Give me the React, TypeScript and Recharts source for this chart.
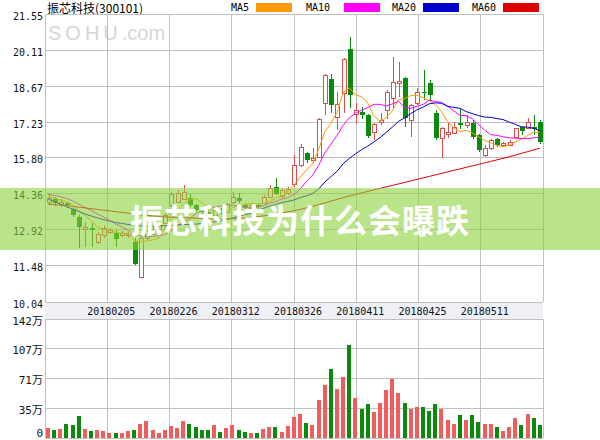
import React from 'react';
import {
  ComposedChart,
  BarChart,
  Bar,
  Line,
  XAxis,
  YAxis,
  CartesianGrid,
  Legend,
  Cell
} from 'recharts';

// daily candles, 2018-01-22 .. 2018-05-24 (81 sessions)
const OPEN = [14.05, 14.15, 13.95, 14.00, 13.75, 13.45, 12.95, 13.00, 12.45, 12.72,
  12.85, 12.80, 12.72, 12.70, 12.45, 11.05, 12.60, 12.75, 12.95, 13.20,
  13.90, 14.05, 14.15, 14.20, 13.90, 13.72, 13.62, 13.50, 13.70, 13.65,
  14.03, 14.20, 13.92, 13.80, 13.90, 14.00, 14.25, 14.62, 14.28, 14.38,
  14.75, 15.50, 16.00, 15.72, 15.85, 18.00, 18.95, 17.45, 18.40, 20.15,
  17.55, 17.62, 17.50, 16.85, 17.22, 17.72, 18.20, 18.78, 19.00, 17.32,
  17.98, 18.45, 18.80, 17.60, 16.60, 16.75, 16.80, 17.20, 17.10, 17.20,
  16.70, 15.92, 16.20, 16.55, 16.30, 16.32, 16.62, 17.02, 17.00, 17.05, 17.22];
const HIGH = [14.40, 14.22, 14.15, 14.05, 13.80, 13.50, 13.25, 13.20, 12.85, 13.10,
  13.00, 12.90, 12.88, 12.82, 12.60, 12.70, 12.90, 13.05, 13.20, 13.60,
  14.45, 14.50, 14.70, 14.35, 13.95, 13.80, 13.70, 13.80, 13.80, 14.00,
  14.43, 14.40, 14.00, 14.00, 13.95, 14.30, 14.72, 15.00, 14.60, 14.65,
  15.90, 16.35, 16.05, 16.20, 17.40, 19.15, 19.15, 18.45, 19.80, 20.62,
  18.00, 17.85, 17.55, 17.20, 17.60, 18.50, 19.85, 19.65, 19.05, 17.95,
  18.60, 19.30, 18.90, 17.72, 17.05, 17.20, 17.25, 17.75, 17.50, 17.30,
  16.75, 16.30, 16.55, 16.60, 16.45, 16.50, 17.00, 17.05, 17.40, 17.50, 17.30];
const LOW = [13.95, 13.88, 13.85, 13.80, 13.45, 12.20, 12.25, 12.25, 12.35, 12.60,
  12.75, 12.25, 12.65, 12.60, 11.50, 11.05, 12.50, 12.70, 12.90, 13.15,
  13.85, 14.00, 14.10, 13.85, 13.65, 13.55, 13.40, 13.45, 13.50, 13.60,
  13.95, 14.00, 13.75, 13.75, 13.75, 13.95, 14.20, 14.30, 14.20, 14.30,
  14.65, 15.45, 15.60, 15.60, 15.80, 17.50, 17.60, 16.90, 17.60, 17.80,
  17.20, 17.35, 16.60, 16.50, 17.10, 17.35, 17.80, 18.25, 17.05, 16.65,
  17.90, 18.10, 18.05, 16.50, 15.80, 16.60, 16.75, 16.95, 17.00, 16.55,
  16.05, 15.85, 16.10, 16.25, 16.22, 16.28, 16.60, 16.70, 16.95, 16.70, 16.35];
const CLOSE = [14.20, 14.00, 14.02, 13.90, 13.52, 13.05, 13.02, 12.92, 12.75, 12.98,
  12.90, 12.55, 12.78, 12.74, 11.55, 12.60, 12.75, 12.95, 13.10, 13.50,
  14.35, 14.40, 14.45, 13.92, 13.72, 13.62, 13.50, 13.70, 13.60, 13.95,
  14.23, 14.08, 13.80, 13.90, 13.82, 14.22, 14.60, 14.35, 14.50, 14.55,
  15.50, 16.25, 15.72, 15.80, 17.35, 19.10, 17.92, 17.95, 19.75, 18.30,
  17.70, 17.50, 16.68, 17.15, 17.32, 18.42, 18.85, 18.88, 17.40, 17.90,
  18.45, 18.38, 18.30, 16.60, 17.00, 16.82, 17.05, 17.10, 17.25, 16.65,
  16.12, 16.18, 16.50, 16.32, 16.38, 16.45, 16.98, 16.88, 17.22, 16.95, 16.45];

// volume, 万手
const VOLUME = [11.5, 9.1, 10.3, 17.1, 15.9, 26.6, 10.3, 7.9, 9.1, 7.9,
  5.6, 5.6, 5.6, 7.9, 9.1, 17.1, 19.8, 9.1, 5.6, 9.1,
  14.7, 11.5, 19.8, 17.1, 12.7, 9.1, 9.1, 15.9, 6.7, 11.5,
  15.9, 9.1, 6.7, 5.6, 5.6, 10.3, 12.7, 12.7, 6.7, 14.7,
  24.6, 29.0, 18.3, 15.9, 45.7, 63.5, 82.6, 58.8, 73.0, 111.2,
  48.0, 34.9, 40.9, 31.4, 42.1, 57.6, 69.9, 54.0, 42.1, 34.9,
  37.3, 37.3, 32.6, 40.9, 34.9, 21.8, 17.1, 27.8, 21.8, 27.8,
  19.5, 17.1, 17.1, 13.5, 8.7, 13.5, 24.2, 15.9, 29.0, 24.2, 15.9];

const MA5 = [14.25, 14.20, 14.12, 14.05, 13.93, 13.70, 13.50, 13.28, 13.05, 12.94,
  12.91, 12.82, 12.79, 12.79, 12.50, 12.44, 12.48, 12.52, 12.59, 12.98,
  13.33, 13.66, 13.96, 14.12, 14.17, 14.02, 13.84, 13.69, 13.63, 13.67,
  13.80, 13.91, 13.93, 13.99, 13.97, 13.96, 14.07, 14.18, 14.30, 14.44,
  14.70, 15.03, 15.30, 15.56, 16.12, 16.84, 17.18, 17.62, 18.41, 18.60,
  18.32, 18.24, 17.99, 17.47, 17.27, 17.41, 17.68, 18.12, 18.17, 18.29,
  18.30, 18.20, 18.09, 17.93, 17.65, 17.25, 17.00, 16.85, 16.90, 16.80,
  16.65, 16.50, 16.40, 16.30, 16.25, 16.30, 16.45, 16.55, 16.70, 16.82, 16.85];
const MA10 = [14.35, 14.30, 14.25, 14.18, 14.08, 13.95, 13.82, 13.70, 13.56, 13.44,
  13.31, 13.16, 13.04, 12.92, 12.72, 12.68, 12.65, 12.66, 12.69, 12.74,
  12.89, 13.07, 13.24, 13.36, 13.57, 13.68, 13.75, 13.83, 13.88, 13.92,
  13.91, 13.88, 13.81, 13.81, 13.82, 13.88, 13.99, 14.06, 14.15, 14.21,
  14.33, 14.55, 14.85, 15.10, 15.50, 16.00, 16.35, 16.70, 17.10, 17.40,
  17.58, 17.71, 17.81, 17.94, 17.94, 17.87, 17.96, 18.06, 17.82, 17.78,
  17.86, 17.94, 18.11, 18.05, 18.02, 17.86, 17.68, 17.50, 17.49, 17.36,
  17.13, 16.91, 16.73, 16.70, 16.64, 16.60, 16.59, 16.57, 16.57, 16.60, 16.63];
const MA20 = [14.15, 14.05, 13.95, 13.85, 13.75, 13.65, 13.56, 13.48, 13.40, 13.33,
  13.27, 13.22, 13.18, 13.14, 13.10, 13.08, 13.07, 13.07, 13.08, 13.09,
  13.10, 13.12, 13.14, 13.14, 13.15, 13.18, 13.20, 13.24, 13.28, 13.33,
  13.40, 13.47, 13.53, 13.58, 13.70, 13.78, 13.87, 13.94, 14.01, 14.06,
  14.12, 14.21, 14.28, 14.37, 14.55, 14.83, 15.05, 15.26, 15.57, 15.78,
  15.96, 16.13, 16.27, 16.44, 16.61, 16.82, 17.03, 17.26, 17.40, 17.57,
  17.72, 17.83, 17.96, 18.00, 17.98, 17.86, 17.82, 17.78, 17.65, 17.57,
  17.49, 17.43, 17.42, 17.37, 17.33, 17.23, 17.14, 17.04, 17.03, 16.98, 16.88];
const MA60 = [13.95, 13.93, 13.91, 13.89, 13.86, 13.83, 13.80, 13.77, 13.74, 13.71,
  13.68, 13.65, 13.62, 13.59, 13.55, 13.52, 13.50, 13.48, 13.46, 13.44,
  13.43, 13.42, 13.41, 13.40, 13.39, 13.38, 13.37, 13.36, 13.36, 13.36,
  13.37, 13.38, 13.40, 13.42, 13.45, 13.48, 13.52, 13.56, 13.60, 13.64,
  13.69, 13.74, 13.80, 13.86, 13.93, 14.00, 14.07, 14.14, 14.21, 14.28,
  14.34, 14.40, 14.46, 14.52, 14.58, 14.64, 14.70, 14.76, 14.82, 14.88,
  14.94, 15.00, 15.06, 15.12, 15.18, 15.24, 15.30, 15.36, 15.42, 15.48,
  15.54, 15.60, 15.66, 15.72, 15.78, 15.84, 15.91, 15.98, 16.05, 16.12, 16.19];

const DATE_LABELS = ['20180205', '20180226', '20180312', '20180326', '20180411', '20180425', '20180511'];
const PRICE_TICKS = [10.04, 11.48, 12.92, 14.36, 15.80, 17.23, 18.67, 20.11, 21.55];
const VOL_TICKS = [0, 35.5, 71, 106.5, 142];
const VOL_TICK_LABELS = ['0', '35万', '71万', '107万', '142万'];
const GRID_COLS = [0, 1, 2, 3, 4, 5, 6, 7, 8];
const LEGEND_ORDER = ['MA5', 'MA10', 'MA20', 'MA60'];

const RED = '#e04b4b';
const GREEN = '#0a8a0a';
const VOL_RED = '#f25c5c';
const MONO = '"DejaVu Sans Mono", "Noto Sans CJK SC", monospace';

const rows = CLOSE.map((close, i) => ({
  i,
  open: OPEN[i],
  high: HIGH[i],
  low: LOW[i],
  close,
  range: [LOW[i], HIGH[i]],
  vol: VOLUME[i],
  ma5: MA5[i],
  ma10: MA10[i],
  ma20: MA20[i],
  ma60: MA60[i]
}));

const Candle = (props: any) => {
  const { x, y, width, height, payload } = props;
  const top = Math.min(y, y + height);
  const h = Math.abs(height);
  const { open, close, high, low } = payload;
  const span = high - low || 1;
  const py = (v: number) => Math.round(top + ((high - v) / span) * h);
  const cx = Math.round(x + width / 2);
  const bodyTop = py(Math.max(open, close));
  const bodyBot = py(Math.min(open, close));
  const wickTop = py(high);
  const wickBot = py(low);
  if (close >= open) {
    return (
      <g>
        <line x1={cx + 0.5} x2={cx + 0.5} y1={wickTop} y2={bodyTop} stroke={RED} />
        <line x1={cx + 0.5} x2={cx + 0.5} y1={bodyBot} y2={wickBot} stroke={RED} />
        <rect x={cx - 1.5} y={bodyTop + 0.5} width={4} height={Math.max(bodyBot - bodyTop, 1)} fill="#fff" stroke={RED} />
      </g>
    );
  }
  return (
    <g>
      <line x1={cx + 0.5} x2={cx + 0.5} y1={wickTop} y2={wickBot} stroke={GREEN} />
      <rect x={cx - 2} y={bodyTop} width={5} height={Math.max(bodyBot - bodyTop, 1)} fill={GREEN} />
    </g>
  );
};

const PriceTick = ({ x, y, payload }: any) => (
  <text x={x} y={y + 2} textAnchor="end" dominantBaseline="central" fontSize={10} fontFamily={MONO} fill="#111">
    {Number(payload.value).toFixed(2)}
  </text>
);

const VolTick = ({ x, y, payload }: any) => {
  const label = VOL_TICK_LABELS[VOL_TICKS.indexOf(payload.value)];
  return (
    <text x={x} y={payload.value === 0 ? y - 5 : y + 2} textAnchor="end" dominantBaseline="central" fontSize={11} fontFamily={MONO} fill="#111">
      {label}
    </text>
  );
};

const DateTick = ({ x, y, payload }: any) => {
  const v = payload.value;
  if (v < 1 || v > 7) return null;
  return (
    <text x={x + 4} y={y + 9} textAnchor="middle" dominantBaseline="central" fontSize={10} fontFamily={MONO} fill="#111">
      {DATE_LABELS[v - 1]}
    </text>
  );
};

const LEGEND_TEXT_X = [231, 306, 392, 472];
const LEGEND_SWATCH_X = [256, 344, 423, 503];

const renderLegend = (props: any) => {
  const items = (props.payload || [])
    .filter((p: any) => p.type !== 'none' && LEGEND_ORDER.includes(p.value))
    .sort((a: any, b: any) => LEGEND_ORDER.indexOf(a.value) - LEGEND_ORDER.indexOf(b.value));
  return (
    <div style={{ position: 'relative', width: 600, height: 14 }}>
      {items.map((item: any, n: number) => (
        <React.Fragment key={item.value}>
          <span style={{ position: 'absolute', left: LEGEND_TEXT_X[n], top: 2, fontSize: 10, lineHeight: '11px', fontFamily: MONO, color: '#000' }}>
            {item.value}
          </span>
          <span style={{ position: 'absolute', left: LEGEND_SWATCH_X[n], top: 3, width: 36, height: 9, background: item.color }} />
        </React.Fragment>
      ))}
    </div>
  );
};

const App: React.FC = () => {
  return (
    <div style={{ position: 'absolute', left: 0, top: 0, width: 600, height: 440, background: '#fff', overflow: 'hidden' }}>
      <style>{`
        .recharts-cartesian-grid line { shape-rendering: crispEdges; }
        .recharts-bar-rectangle path { shape-rendering: crispEdges; }
      `}</style>

      <div style={{ position: 'absolute', left: 47, top: 0, fontSize: 12, lineHeight: '15px', fontFamily: '"Noto Sans CJK SC", sans-serif', color: '#000' }}>
        振芯科技(300101)
      </div>
      <div style={{ position: 'absolute', left: 48, top: 21, fontSize: 20, lineHeight: '24px', fontFamily: '"Liberation Sans", sans-serif', color: '#d6d6d6' }}>
        <span style={{ letterSpacing: 4 }}>SOHU</span>.com
      </div>
      <div style={{ position: 'absolute', left: 45, top: 302, width: 498, height: 17, background: '#eef0f5' }} />

      <div style={{ position: 'absolute', left: 0, top: 0 }}>
        <ComposedChart width={600} height={319} data={rows} margin={{ top: 14, right: 57, left: 0, bottom: 0 }}>
          <CartesianGrid xAxisId="g" yAxisId="p" stroke="#c0c0c0" />
          <XAxis xAxisId="k" dataKey="i" type="category" hide />
          <XAxis
            xAxisId="g"
            dataKey="i"
            type="number"
            domain={[0, 8]}
            allowDataOverflow
            ticks={GRID_COLS}
            interval={0}
            height={17}
            axisLine={false}
            tickLine={false}
            tickSize={0}
            tickMargin={0}
            tick={<DateTick />}
          />
          <YAxis
            yAxisId="p"
            domain={[10.04, 21.55]}
            allowDataOverflow
            ticks={PRICE_TICKS}
            interval={0}
            width={45}
            axisLine={false}
            tickLine={false}
            tickSize={0}
            tickMargin={2}
            tick={<PriceTick />}
          />
          <Legend
            layout="horizontal"
            verticalAlign="middle"
            align="center"
            wrapperStyle={{ top: 0, left: 0, width: 600, height: 14 }}
            content={renderLegend}
          />
          <Bar xAxisId="k" yAxisId="p" dataKey="range" barSize={5} shape={<Candle />} legendType="none" isAnimationActive={false} />
          <Line xAxisId="k" yAxisId="p" dataKey="ma5" name="MA5" type="linear" stroke="#ff9900" strokeWidth={1} dot={false} activeDot={false} isAnimationActive={false} />
          <Line xAxisId="k" yAxisId="p" dataKey="ma10" name="MA10" type="linear" stroke="#ff00ff" strokeWidth={1} dot={false} activeDot={false} isAnimationActive={false} />
          <Line xAxisId="k" yAxisId="p" dataKey="ma20" name="MA20" type="linear" stroke="#0000cc" strokeWidth={1} dot={false} activeDot={false} isAnimationActive={false} />
          <Line xAxisId="k" yAxisId="p" dataKey="ma60" name="MA60" type="linear" stroke="#dd0000" strokeWidth={1} dot={false} activeDot={false} isAnimationActive={false} />
        </ComposedChart>
      </div>

      <div style={{ position: 'absolute', left: 0, top: 310 }}>
        <BarChart width={600} height={129} data={rows} margin={{ top: 9, right: 57, left: 0, bottom: 1 }}>
          <CartesianGrid xAxisId="g" yAxisId="v" stroke="#c0c0c0" />
          <XAxis xAxisId="k" dataKey="i" type="category" hide />
          <XAxis xAxisId="g" dataKey="i" type="number" domain={[0, 8]} allowDataOverflow ticks={GRID_COLS} interval={0} hide />
          <YAxis
            yAxisId="v"
            domain={[0, 142]}
            allowDataOverflow
            ticks={VOL_TICKS}
            interval={0}
            width={45}
            axisLine={false}
            tickLine={false}
            tickSize={0}
            tickMargin={2}
            tick={<VolTick />}
          />
          <Bar xAxisId="k" yAxisId="v" dataKey="vol" barSize={4} isAnimationActive={false}>
            {rows.map((r) => (
              <Cell key={r.i} fill={r.close >= r.open ? VOL_RED : GREEN} />
            ))}
          </Bar>
        </BarChart>
      </div>

      <div
        style={{
          position: 'absolute',
          left: 0,
          top: 188,
          width: 600,
          height: 62,
          background: 'rgba(140, 210, 60, 0.6)',
          color: '#fff',
          fontFamily: '"Noto Sans CJK SC", sans-serif',
          fontWeight: 700,
          fontSize: 33,
          lineHeight: '62px',
          letterSpacing: 1,
          textAlign: 'center'
        }}
      >
        振芯科技为什么会曝跌
      </div>
    </div>
  );
};

export default App;
